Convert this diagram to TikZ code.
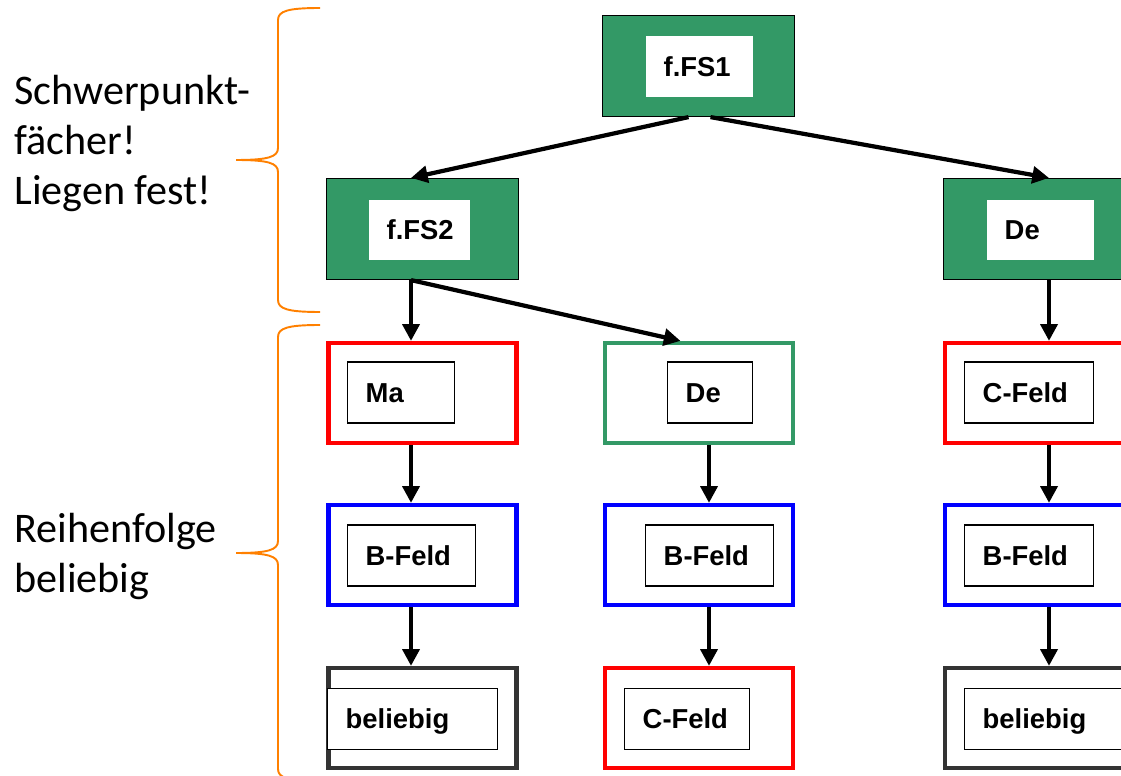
\documentclass[tikz,border=0pt]{standalone}
\usepackage{fontspec}
\usetikzlibrary{arrows.meta}
\newfontfamily\boxfont{Liberation Sans}
\newfontfamily\notefont{Carlito}
\definecolor{fgreen}{RGB}{51,153,102}
\definecolor{fred}{RGB}{255,0,0}
\definecolor{fblue}{RGB}{0,0,255}
\definecolor{fgrey}{RGB}{51,51,51}
\definecolor{forange}{RGB}{255,128,0}
\tikzset{
  gbox/.style={draw=black, line width=0.7pt, fill=fgreen, minimum width=3.84cm, minimum height=2.02cm, inner sep=0pt},
  cbox/.style={draw=#1, line width=2.4pt, minimum width=3.76cm, minimum height=2cm, inner sep=0pt},
  inbox/.style={anchor=west, fill=white, draw=black, line width=0.8pt, text width=#1, align=left, inner xsep=0.36cm, inner ysep=0pt, minimum height=1.22cm, text height=11pt, text depth=0pt, font=\boxfont\bfseries\fontsize{15.6}{18}\selectfont},
  wbox/.style={inbox=#1, draw=none},
  arr/.style={line width=2.4pt, -{Triangle[length=9.5pt,width=9.5pt]}},
  brace/.style={draw=forange, line width=1.1pt},
  note/.style={anchor=base west, inner sep=0pt, font=\notefont\fontsize{24}{28.4}\selectfont}
}

\begin{document}
\begin{tikzpicture}[x=0.02cm, y=-0.02cm]

\useasboundingbox (0,0) rectangle (1121,776);
\clip (0,0) rectangle (1121,776);

\node[note] (schwer) at (14,105) {Schwerpunkt-};
\node[note] (faecher) at (14,155) {fächer!};
\node[note] (liegen) at (14,205) {Liegen fest!};
\node[note] (reihe) at (14,542) {Reihenfolge};
\node[note] (belieb) at (14,592) {beliebig};

\draw[brace] (320,8) .. controls (288,8) and (278,11) .. (278,20) -- (278,148) .. controls (278,157) and (268,160) .. (236,160) .. controls (268,160) and (278,163) .. (278,172) -- (278,300) .. controls (278,309) and (288,312) .. (320,312);
\draw[brace] (320,325) .. controls (288,325) and (278,328) .. (278,337) -- (278,541) .. controls (278,550) and (268,553) .. (236,553) .. controls (268,553) and (278,556) .. (278,565) -- (278,769) .. controls (278,778) and (288,781) .. (320,781);

\node[gbox] (fseins) at (698.5,66) {};
\node[gbox] (fszwei) at (422.5,229) {};
\node[gbox] (deoben) at (1039.5,229) {};

\node[cbox=fred] (ma) at (422.5,393) {};
\node[cbox=fgreen] (demitte) at (699,393) {};
\node[cbox=fred] (cfrechts) at (1039,393) {};

\node[cbox=fblue] (bflinks) at (422.5,555) {};
\node[cbox=fblue] (bfmitte) at (699,555) {};
\node[cbox=fblue] (bfrechts) at (1039,555) {};

\node[cbox=fgrey] (belinks) at (422.5,718) {};
\node[cbox=fred] (cfmitte) at (699,718) {};
\node[cbox=fgrey] (berechts) at (1039,718) {};

\node[wbox=1.42cm] (fseinsT) at (645,67) {f.FS1};
\node[wbox=1.3cm] (fszweiT) at (368,230) {f.FS2};
\node[wbox=1.42cm] (deobenT) at (986,230) {De};

\node[inbox=1.42cm] (maT) at (347,392.5) {Ma};
\node[inbox=0.98cm] (demitteT) at (667,392.5) {De};
\node[inbox=1.86cm] (cfrechtsT) at (964,392.5) {C-Feld};

\node[inbox=1.84cm] (bflinksT) at (347,555.5) {B-Feld};
\node[inbox=1.84cm] (bfmitteT) at (645,555.5) {B-Feld};
\node[inbox=1.86cm] (bfrechtsT) at (964,555.5) {B-Feld};

\node[inbox=2.68cm] (belinksT) at (327,719) {beliebig};
\node[inbox=1.78cm] (cfmitteT) at (624,719) {C-Feld};
\node[inbox=2.8cm] (berechtsT) at (964,719) {beliebig};

\coordinate (ca) at (411,0);
\coordinate (cb) at (709,0);
\coordinate (cc) at (1049,0);

\draw[arr] ([xshift=-0.2cm]fseins.south) -- (fszwei.north -| ca);
\draw[arr] ([xshift=0.24cm]fseins.south) -- (deoben.north -| cc);
\draw[arr] (fszwei.south -| ca) -- (ma.north -| ca);
\draw[arr] (fszwei.south -| ca) -- ([xshift=-0.37cm]demitte.north);

\draw[arr] (ma.south -| ca) -- (bflinks.north -| ca);
\draw[arr] (bflinks.south -| ca) -- (belinks.north -| ca);
\draw[arr] (demitte.south -| cb) -- (bfmitte.north -| cb);
\draw[arr] (bfmitte.south -| cb) -- (cfmitte.north -| cb);
\draw[arr] (deoben.south -| cc) -- (cfrechts.north -| cc);
\draw[arr] (cfrechts.south -| cc) -- (bfrechts.north -| cc);
\draw[arr] (bfrechts.south -| cc) -- (berechts.north -| cc);

\end{tikzpicture}
\end{document}
